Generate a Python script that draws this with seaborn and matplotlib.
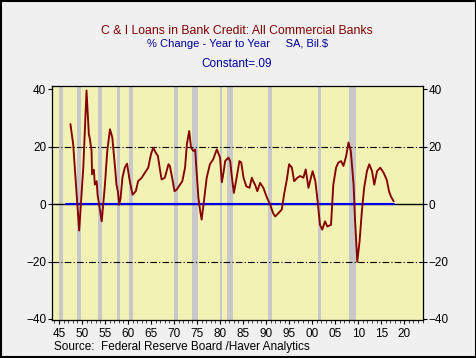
import pandas as pd
import seaborn as sns
import matplotlib.pyplot as plt
from matplotlib.patches import Rectangle

# C&I loans, % change year to year
years = [1947.5, 1948.1, 1948.8, 1949.4, 1950.3, 1951.0, 1951.5, 1951.7, 1952.1, 1952.2,
         1952.6, 1952.8, 1953.2, 1953.4, 1954.3, 1955.0, 1955.5, 1956.1, 1956.6, 1957.2,
         1957.5, 1957.8, 1958.1, 1958.4, 1958.8, 1959.3, 1959.8, 1960.4, 1961.0, 1961.7,
         1962.2, 1963.0, 1963.7, 1964.4, 1965.0, 1965.5, 1966.0, 1966.5, 1967.0, 1967.3,
         1968.0, 1968.8, 1969.1, 1969.6, 1970.1, 1970.6, 1971.3, 1971.8, 1972.4, 1972.8,
         1973.3, 1973.7, 1974.2, 1974.6, 1974.9, 1975.3, 1975.7, 1976.0, 1976.5, 1977.1,
         1977.8, 1978.5, 1979.3, 1980.0, 1980.4, 1980.8, 1981.1, 1981.8, 1982.2, 1982.5,
         1983.0, 1983.6, 1984.2, 1984.6, 1985.1, 1985.7, 1986.4, 1986.9, 1987.2, 1987.6,
         1988.1, 1988.7, 1989.4, 1990.2, 1990.9, 1991.5, 1992.0, 1992.7, 1993.4, 1993.9,
         1994.5, 1995.0, 1995.6, 1996.1, 1996.8, 1997.4, 1998.1, 1998.6, 1999.2, 2000.1,
         2000.7, 2001.2, 2001.7, 2002.2, 2002.8, 2003.3, 2004.1, 2004.6, 2005.2, 2005.7,
         2006.3, 2006.8, 2007.4, 2007.9, 2008.4, 2009.0, 2009.3, 2009.8, 2010.3, 2010.8,
         2011.3, 2011.9, 2012.4, 2013.0, 2013.5, 2014.1, 2014.8, 2015.5, 2016.2, 2016.7,
         2017.1, 2017.7]
pct_change = [27.9, 20.9, 4.5, -9.2, 12.8, 39.6, 24.4, 23.0, 18.5, 10.4,
              12.0, 6.8, 8.0, 3.3, -6.0, 6.8, 18.5, 26.1, 23.2, 12.7,
              6.8, 4.5, -0.2, 2.2, 9.2, 12.7, 14.1, 8.0, 3.3, 4.5,
              8.0, 9.2, 11.0, 12.7, 17.4, 19.7, 18.0, 16.8, 11.5, 8.6,
              9.2, 13.9, 13.3, 9.2, 4.5, 5.1, 6.8, 8.0, 12.7, 20.9,
              25.5, 19.7, 18.5, 19.0, 11.5, 2.2, -2.5, -5.4, 1.0, 9.2,
              13.9, 15.6, 19.1, 16.2, 7.6, 11.5, 15.0, 16.2, 15.0, 10.4,
              3.9, 9.2, 15.0, 14.5, 9.2, 6.2, 5.7, 9.2, 8.0, 6.8,
              4.5, 7.4, 5.7, 2.2, -0.2, -3.1, -4.3, -3.1, -1.9, 3.3,
              8.5, 13.9, 12.7, 8.0, 9.2, 9.8, 9.2, 12.1, 5.7, 11.5,
              8.0, 1.0, -7.2, -8.9, -6.0, -7.8, -7.2, 6.8, 12.7, 14.5,
              15.0, 13.3, 16.8, 21.5, 18.5, 6.8, -4.8, -20.1, -13.0, -2.5,
              5.7, 11.5, 13.9, 11.5, 6.8, 11.5, 12.7, 11.0, 8.5, 4.5,
              2.7, 1.0]

constant_value = 0.09
constant_span = [1946.5, 2017.7]

# NBER recessions (start, end)
recessions = [(1945.1, 1945.8), (1948.9, 1949.8), (1953.5, 1954.4), (1957.6, 1958.3),
              (1960.3, 1961.1), (1969.9, 1970.9), (1973.9, 1975.2), (1980.0, 1980.5),
              (1981.5, 1982.9), (1990.5, 1991.2), (2001.2, 2001.9), (2007.9, 2009.5)]

tick_years = list(range(1945, 2021, 5))
tick_labels = [f"{y % 100:02d}" for y in tick_years]

sns.set_style("ticks")
plt.rcParams['font.family'] = ['Liberation Sans', 'DejaVu Sans']

fig = plt.figure(figsize=(4.77, 3.58), dpi=100, facecolor='#f0f0f0')
ax = fig.add_axes([0.109, 0.106, 0.778, 0.654])
ax.set_facecolor('#f2f2b4')

for start, end in recessions:
    ax.axvspan(start, end, color='#c8c8c8', lw=0, zorder=0)

ax.axhline(20, color='black', lw=0.8, ls=(0, (6, 2, 1, 2)), zorder=1)
ax.axhline(-20, color='black', lw=0.8, ls=(0, (6, 2, 1, 2)), zorder=1)
ax.axhline(0, color='black', lw=1.0, zorder=1)
ax.plot(constant_span, [constant_value] * 2, color='#0000ee', lw=1.5, zorder=2)

df = pd.DataFrame({'year': years, 'pct': pct_change})
sns.lineplot(data=df, x='year', y='pct', ax=ax, color='#850000', lw=1.35, zorder=3)

ax.set_xlim(1943.5, 2024.1)
ax.set_ylim(-40.4, 41.2)
ax.set_xticks(tick_years)
ax.set_xticklabels(tick_labels)
ax.set_xticks(range(1944, 2025), minor=True)
ax.set_yticks([-40, -20, 0, 20, 40])
ax.set_xlabel('')
ax.set_ylabel('')
ax.tick_params(axis='both', labelsize=8.5, colors='black', length=3, width=0.8, pad=1)
ax.tick_params(axis='x', which='both', pad=2.5)
ax.tick_params(axis='x', which='minor', length=2, width=0.6)
ax.tick_params(axis='y', which='both', left=True, right=True, labelleft=True, labelright=True)
for s in ax.spines.values():
    s.set_linewidth(0.9)
    s.set_color('black')

fig.text(0.497, 0.913, 'C & I Loans in Bank Credit: All Commercial Banks',
         ha='center', va='center', fontsize=8.8, color='#800000')
fig.text(0.497, 0.877, '% Change - Year to Year     SA, Bil.$',
         ha='center', va='center', fontsize=8, color='#000099')
fig.text(0.497, 0.822, 'Constant=.09', ha='center', va='center', fontsize=8.5, color='#000099')
fig.text(0.113, 0.032, 'Source:  Federal Reserve Board /Haver Analytics',
         ha='left', va='center', fontsize=8.5, color='black')

fig.patches.append(Rectangle((0.002, 0.003), 0.996, 0.994, transform=fig.transFigure,
                             fill=False, edgecolor='black', lw=1.5))

fig.savefig('out.png', dpi=100, facecolor=fig.get_facecolor())
